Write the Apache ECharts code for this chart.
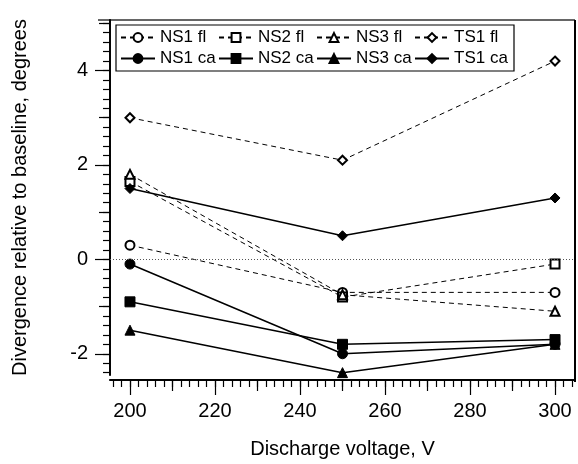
<!DOCTYPE html>
<html>
<head>
<meta charset="utf-8">
<script src="https://cdn.jsdelivr.net/npm/echarts@6/dist/echarts.min.js"></script>
<style>html,body{margin:0;padding:0;background:#fff}#c{width:578px;height:464px}</style>
</head>
<body>
<div id="c"></div>
<script>
// Data
const voltage = [200, 250, 300];
const ns1Fl = [0.3, -0.7, -0.7];
const ns2Fl = [1.65, -0.8, -0.1];
const ns3Fl = [1.8, -0.75, -1.1];
const ts1Fl = [3.0, 2.1, 4.2];
const ns1Ca = [-0.1, -2.0, -1.8];
const ns2Ca = [-0.9, -1.8, -1.7];
const ns3Ca = [-1.5, -2.4, -1.8];
const ts1Ca = [1.5, 0.5, 1.3];

const seriesNames = ['NS1 fl', 'NS2 fl', 'NS3 fl', 'TS1 fl', 'NS1 ca', 'NS2 ca', 'NS3 ca', 'TS1 ca'];
const seriesValues = [ns1Fl, ns2Fl, ns3Fl, ts1Fl, ns1Ca, ns2Ca, ns3Ca, ts1Ca];
const seriesSymbols = ['emptyCircle', 'emptyRect', 'emptyTriangle', 'emptyDiamond', 'circle', 'rect', 'triangle', 'diamond'];

const xMajorTicks = [200, 220, 240, 260, 280, 300];
const xMediumTicks = [210, 230, 250, 270, 290];
const yMajorTicks = [-2, 0, 2, 4];
const yMediumTicks = [-1, 1, 3, 5];

const xMinorTicks = [];
for (let v = 196; v <= 304; v += 2) xMinorTicks.push(v);
const yMinorTicks = [];
for (let i = -12; i <= 25; i++) yMinorTicks.push(+(i * 0.2).toFixed(1));

const X_MIN = 195.3, X_MAX = 304.7, Y_MIN = -2.45, Y_MAX = 5.07;
const FONT = 'Liberation Sans, Arial, Helvetica, sans-serif';

function xAx(ticks, len, showLabel, extra) {
  return Object.assign({
    type: 'value', min: X_MIN, max: X_MAX, offset: 5, position: 'bottom',
    axisLine: { show: true, onZero: false, lineStyle: { color: '#000', width: 1.5 } },
    axisTick: { show: true, customValues: ticks, length: len, lineStyle: { color: '#000', width: 1.2 } },
    axisLabel: showLabel ? { show: true, customValues: ticks, fontSize: 20, color: '#000', fontFamily: FONT, margin: 21 } : { show: false },
    splitLine: { show: false }
  }, extra || {});
}
function yAx(ticks, len, showLabel, extra) {
  return Object.assign({
    type: 'value', min: Y_MIN, max: Y_MAX, position: 'left',
    axisLine: { show: true, onZero: false, lineStyle: { color: '#000', width: 1.5 } },
    axisTick: { show: true, customValues: ticks, length: len, lineStyle: { color: '#000', width: 1.2 } },
    axisLabel: showLabel ? { show: true, customValues: ticks, fontSize: 20, color: '#000', fontFamily: FONT, margin: 22 } : { show: false },
    splitLine: { show: false }
  }, extra || {});
}

const series = seriesNames.map((name, i) => {
  const dashed = i < 4;
  const s = {
    name: name,
    type: 'line',
    xAxisIndex: 0, yAxisIndex: 0,
    data: voltage.map((x, k) => [x, seriesValues[i][k]]),
    symbol: seriesSymbols[i],
    symbolSize: dashed ? 9 : 10,
    showAllSymbol: true,
    itemStyle: { color: '#000', borderColor: '#000', borderWidth: 1 },
    lineStyle: dashed ? { color: '#000', width: 1, type: [5, 4] } : { color: '#000', width: 1.5, type: 'solid' },
    emphasis: { disabled: true },
    animation: false,
    z: 3
  };
  if (i === 0) {
    s.markLine = {
      silent: true, symbol: 'none', animation: false,
      label: { show: false },
      lineStyle: { color: '#555', type: [1, 2], width: 1 },
      data: [{ yAxis: 0 }]
    };
  }
  return s;
});

const chart = echarts.init(document.getElementById('c'), null, { renderer: 'canvas' });
chart.setOption({
  animation: false,
  backgroundColor: '#fff',
  grid: { left: 110, right: 3, top: 20, bottom: 87, containLabel: false },
  xAxis: [
    xAx(xMajorTicks, 15, true, {
      name: 'Discharge voltage, V', nameLocation: 'middle', nameGap: 59,
      nameTextStyle: { fontSize: 20, color: '#000', fontFamily: FONT }
    }),
    xAx(xMediumTicks, 11, false),
    xAx(xMinorTicks, 7, false)
  ],
  yAxis: [
    yAx(yMajorTicks, 15, true, {
      name: 'Divergence relative to baseline, degrees', nameLocation: 'middle', nameGap: 80,
      nameTextStyle: { fontSize: 20, color: '#000', fontFamily: FONT }
    }),
    yAx(yMediumTicks, 11, false),
    yAx(yMinorTicks, 7, false)
  ],
  legend: {
    data: seriesNames,
    left: 116, top: 25, width: 392,
    orient: 'horizontal',
    padding: [3, 4, 3, 4],
    itemGap: 2,
    itemWidth: 34, itemHeight: 11,
    borderColor: '#000', borderWidth: 1.2,
    textStyle: { fontSize: 17, color: '#000', fontFamily: FONT, width: 56, lineHeight: 19 },
    selectedMode: false
  },
  graphic: [
    { type: 'line', shape: { x1: 98, y1: 20, x2: 575, y2: 20 }, style: { stroke: '#333', lineWidth: 1.5 }, silent: true },
    { type: 'line', shape: { x1: 575, y1: 20, x2: 575, y2: 382 }, style: { stroke: '#000', lineWidth: 2 }, silent: true }
  ],
  series: series
});
</script>
</body>
</html>
